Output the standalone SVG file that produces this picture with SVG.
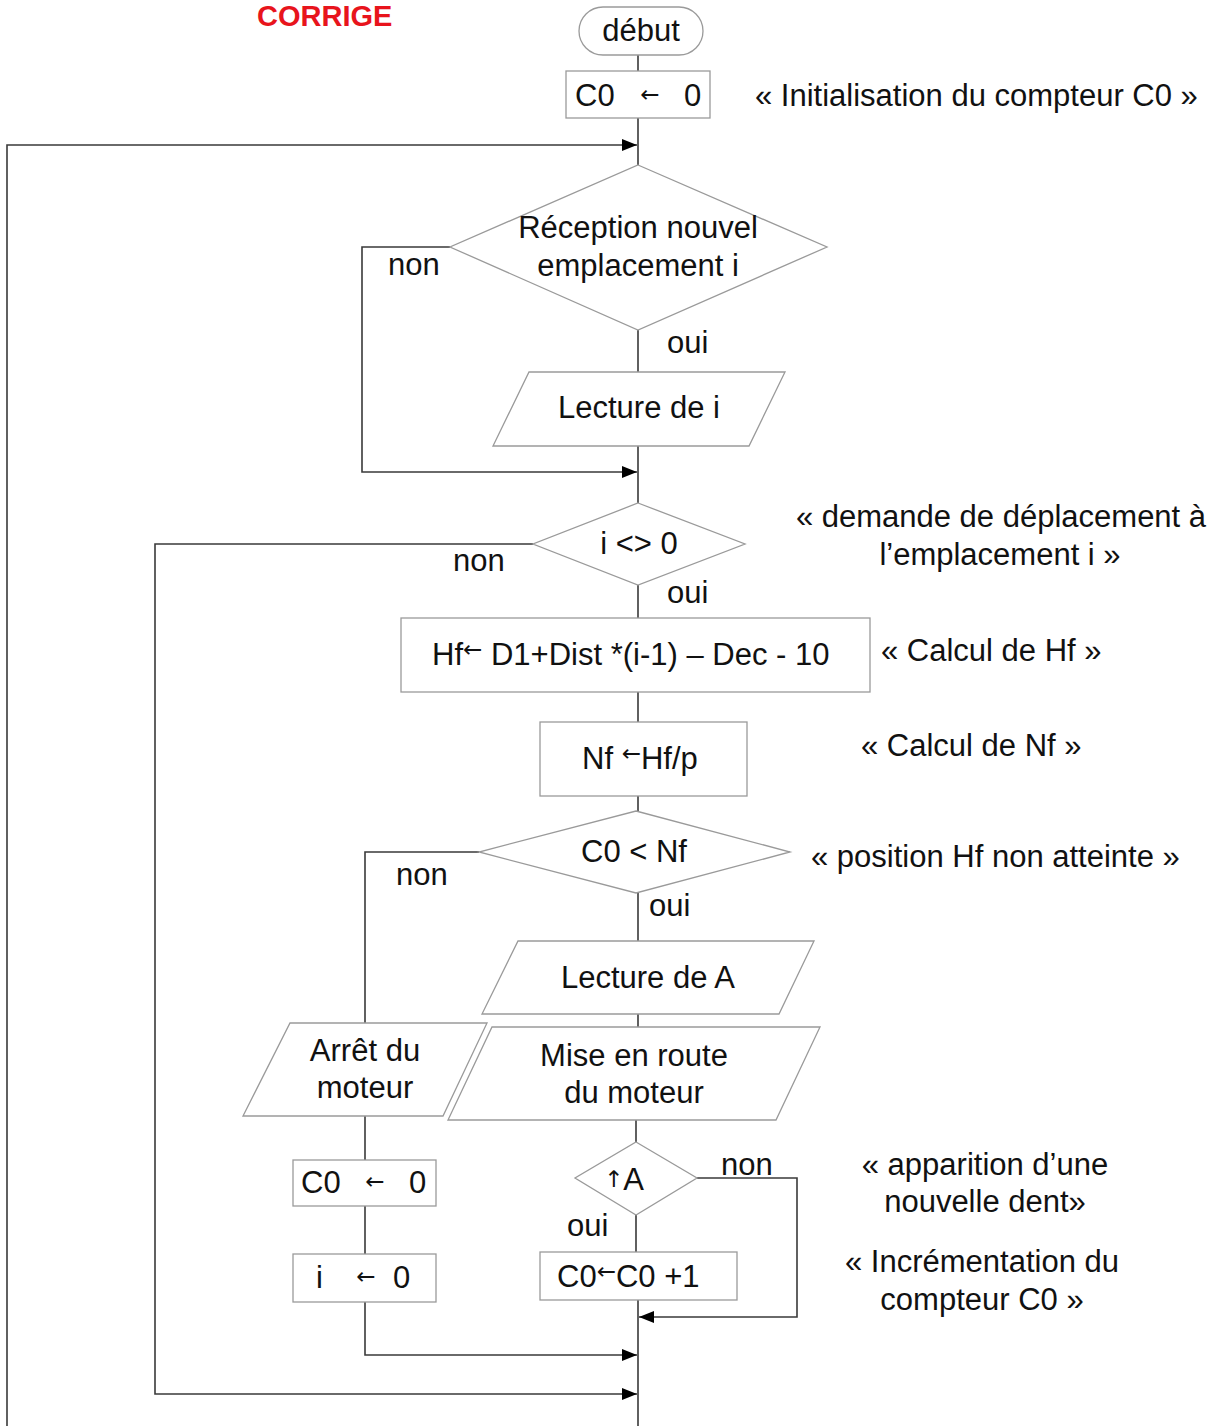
<svg xmlns="http://www.w3.org/2000/svg" width="1218" height="1426" viewBox="0 0 1218 1426">
<defs>
<marker id="arr" markerUnits="userSpaceOnUse" markerWidth="16" markerHeight="12" refX="15" refY="6" orient="auto">
<path d="M0,0 L15,6 L0,12 z" fill="#000"/>
</marker>
<style>
text{font-family:"Liberation Sans",Arial,sans-serif;font-size:31px;fill:#111}
.c{text-anchor:middle}
.sm{font-family:"DejaVu Sans",sans-serif;font-size:23px}
.shape{fill:#fff;stroke:#9a9a9a;stroke-width:1.3}
.ln{fill:none;stroke:#3a3a3a;stroke-width:1.6}
.red{fill:#e8141c;font-weight:bold;font-size:29px}
</style>
</defs>
<rect width="1218" height="1426" fill="#fff"/>
<text class="red" x="257" y="26">CORRIGE</text>

<g id="connectors">
<path class="ln" d="M638,55 V71 M638,118 V165"/>
<path class="ln" d="M7,1426 V145 H637" marker-end="url(#arr)"/>
<path class="ln" d="M638,330 V372 M638,446 V503"/>
<path class="ln" d="M450,247 H362 V472 H637" marker-end="url(#arr)"/>
<path class="ln" d="M533,544 H155 V1394 H637" marker-end="url(#arr)"/>
<path class="ln" d="M638,585 V618 M638,692 V722 M638,796 V811 M638,893 V941 M638,1014 V1027 M636,1120 V1142 M636,1215 V1252 M638,1300 V1426"/>
<path class="ln" d="M479,852 H365 V1023 M365,1116 V1160 M365,1206 V1254"/>
<path class="ln" d="M365,1302 V1355 H637" marker-end="url(#arr)"/>
<path class="ln" d="M697,1178 H797 V1317 H639" marker-end="url(#arr)"/>
</g>

<g id="n-debut">
<rect class="shape" x="579" y="7" width="124" height="48" rx="24"/>
<text class="c" x="641" y="41">début</text>
</g>
<g id="n-init">
<rect class="shape" x="566" y="71" width="144" height="47"/>
<text x="575" y="106">C0</text><text class="sm c" x="650" y="102">←</text><text x="684" y="106">0</text>
</g>
<g id="n-reception">
<polygon class="shape" points="638,165 827,247 638,330 450,247"/>
<text class="c" x="638" y="238">Réception nouvel</text>
<text class="c" x="638" y="276">emplacement i</text>
</g>
<text x="388" y="275">non</text>
<text x="667" y="353">oui</text>
<g id="n-lecture-i">
<polygon class="shape" points="529,372 785,372 749,446 493,446"/>
<text class="c" x="639" y="418">Lecture de i</text>
</g>
<g id="n-i-diff-0">
<polygon class="shape" points="638,503 745,544 638,585 533,544"/>
<text class="c" x="639" y="554">i &lt;&gt; 0</text>
</g>
<text x="453" y="571">non</text>
<text x="667" y="603">oui</text>
<g id="n-hf">
<rect class="shape" x="401" y="618" width="469" height="74"/>
<text x="432" y="665">Hf<tspan class="sm" dy="-8">←</tspan><tspan dy="8"> D1+Dist *(i-1) – Dec - 10</tspan></text>
</g>
<g id="n-nf">
<rect class="shape" x="540" y="722" width="207" height="74"/>
<text x="582" y="769">Nf <tspan class="sm" dy="-8">←</tspan><tspan dy="8">Hf/p</tspan></text>
</g>
<g id="n-c0-nf">
<polygon class="shape" points="636,811 790,852 636,893 479,852"/>
<text class="c" x="634" y="862">C0 &lt; Nf</text>
</g>
<text x="396" y="885">non</text>
<text x="649" y="916">oui</text>
<g id="n-lecture-a">
<polygon class="shape" points="518,941 814,941 779,1014 482,1014"/>
<text class="c" x="648" y="988">Lecture de A</text>
</g>
<g id="n-mise-en-route">
<polygon class="shape" points="492,1027 820,1027 776,1120 448,1120"/>
<text class="c" x="634" y="1066">Mise en route</text>
<text class="c" x="634" y="1103">du moteur</text>
</g>
<g id="n-arret">
<polygon class="shape" points="290,1023 487,1023 443,1116 243,1116"/>
<text class="c" x="365" y="1061">Arrêt du</text>
<text class="c" x="365" y="1098">moteur</text>
</g>
<g id="n-c0-reset">
<rect class="shape" x="293" y="1160" width="143" height="46"/>
<text x="301" y="1193">C0</text><text class="sm c" x="375" y="1189">←</text><text x="409" y="1193">0</text>
</g>
<g id="n-i-reset">
<rect class="shape" x="293" y="1254" width="143" height="48"/>
<text x="316" y="1288">i</text><text class="sm c" x="366" y="1284">←</text><text x="393" y="1288">0</text>
</g>
<g id="n-front-a">
<polygon class="shape" points="636,1142 697,1178 636,1215 575,1178"/>
<text x="604" y="1190"><tspan class="sm" dy="-3">↑</tspan><tspan dy="3">A</tspan></text>
</g>
<text x="721" y="1175">non</text>
<text x="567" y="1236">oui</text>
<g id="n-incr">
<rect class="shape" x="540" y="1252" width="197" height="48"/>
<text x="557" y="1287">C0<tspan class="sm" dy="-8">←</tspan><tspan dy="8">C0 +1</tspan></text>
</g>

<g id="annotations">
<text x="755" y="106">« Initialisation du compteur C0 »</text>
<text class="c" x="1001" y="527">« demande de déplacement à</text>
<text class="c" x="1000" y="565">l’emplacement i »</text>
<text x="881" y="661">« Calcul de Hf »</text>
<text x="861" y="756">« Calcul de Nf »</text>
<text x="811" y="867">« position Hf non atteinte »</text>
<text class="c" x="985" y="1175">« apparition d’une</text>
<text class="c" x="985" y="1212">nouvelle dent»</text>
<text class="c" x="982" y="1272">« Incrémentation du</text>
<text class="c" x="982" y="1310">compteur C0 »</text>
</g>
</svg>
